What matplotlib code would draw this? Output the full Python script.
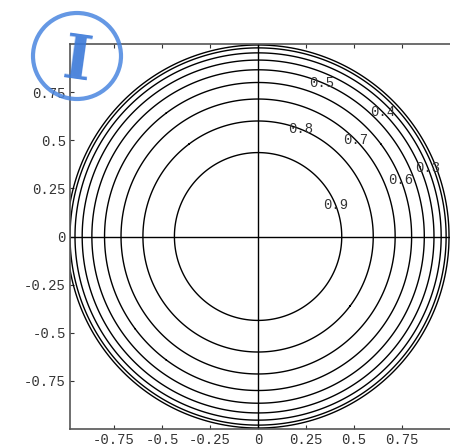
import numpy as np
import matplotlib.pyplot as plt
from matplotlib.patches import Ellipse

# contour levels of z = sqrt(1 - x^2 - y^2)
levels = [0.1, 0.2, 0.3, 0.4, 0.5, 0.6, 0.7, 0.8, 0.9]
label_spots = [(0.375, 0.153), (0.22, 0.55), (0.505, 0.496), (0.74, 0.29),
               (0.333, 0.797), (0.646, 0.64), (0.885, 0.356)]
tick_vals = [-0.75, -0.5, -0.25, 0, 0.25, 0.5, 0.75]
tick_text = ['-0.75', '-0.5', '-0.25', '0', '0.25', '0.5', '0.75']

x = np.linspace(-1.0, 1.0, 601)
X, Y = np.meshgrid(x, x)
R2 = 1 - X**2 - Y**2
Z = np.where(R2 >= 0, np.sqrt(np.clip(R2, 0, None)), np.nan)

fig = plt.figure(figsize=(4.5, 4.46), dpi=100)
ax = fig.add_axes([70 / 450, 1 - 429 / 446, 380 / 450, 385 / 446])

cs = ax.contour(X, Y, Z, levels=levels, colors='black', linewidths=1.0)
# label levels near their spots (manual snaps to the nearest line)
lab = ax.clabel(cs, inline=False, manual=label_spots,
                fontsize=10, fmt='%.1f', colors='#333333')
for t in lab:
    t.set_family('Liberation Mono')
    t.set_rotation(0)

ax.axhline(0, color='black', lw=1.0)
ax.axvline(0, color='black', lw=1.0)

ax.set_xlim(-0.98, 1.0)
ax.set_ylim(-1.0, 1.0)
ax.set_xticks(tick_vals)
ax.set_xticklabels(tick_text)
ax.set_yticks(tick_vals)
ax.set_yticklabels(tick_text)
ax.tick_params(direction='in', length=3, width=0.8, labelsize=10,
               colors='#333333', top=True, pad=3)
for lbl in ax.get_xticklabels() + ax.get_yticklabels():
    lbl.set_family('Liberation Mono')
ax.spines['right'].set_visible(False)
for s in ['left', 'bottom', 'top']:
    ax.spines[s].set_color('#555555')
    ax.spines[s].set_linewidth(1.2)

# handwritten blue circled "I" mark on the scan
fig.patches.append(Ellipse((77 / 450, 1 - 56 / 446), 88 / 450, 86 / 446,
                           transform=fig.transFigure, fill=False,
                           edgecolor='#4a86e0', lw=3, alpha=0.85))
fig.text(77 / 450, 1 - 62 / 446, 'I', transform=fig.transFigure,
         ha='center', va='center', fontsize=44, color='#3a78d8',
         family='DejaVu Serif', fontweight='bold', rotation=-8, alpha=0.9)

fig.savefig('out.png', dpi=100)
